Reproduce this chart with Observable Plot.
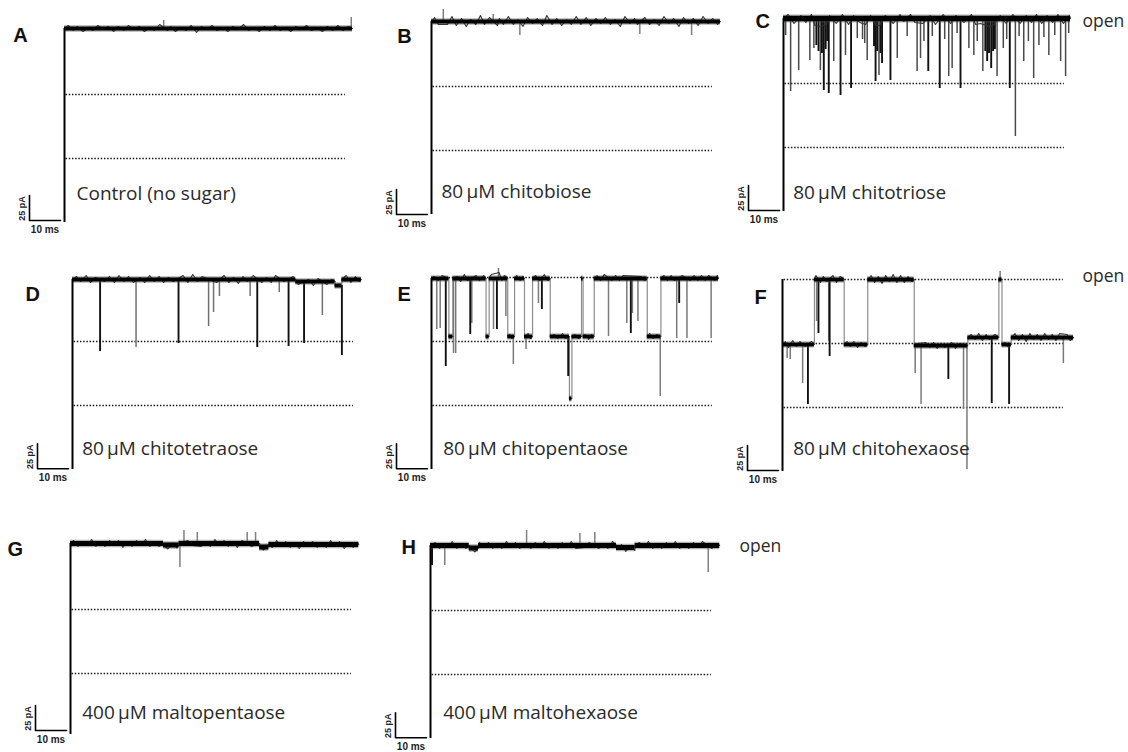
<!DOCTYPE html>
<html><head><meta charset="utf-8">
<script src="https://cdn.jsdelivr.net/npm/d3@7"></script>
<script src="https://cdn.jsdelivr.net/npm/@observablehq/plot@0.6"></script>
<style>
html,body{margin:0;padding:0;background:#fff;}
#fig{position:relative;width:1128px;height:752px;overflow:hidden;background:#fff;}
#fig svg{position:absolute;overflow:visible;}
</style></head><body><div id="fig"></div>
<script>
// ---------- data (time in ms, current in pA) ----------
const panelLetters = ["A","B","C","D","E","F","G","H"];
const conditions = ["Control (no sugar)","80\u2009µM chitobiose","80\u2009µM chitotriose","80\u2009µM chitotetraose",
  "80\u2009µM chitopentaose","80\u2009µM chitohexaose","400\u2009µM maltopentaose","400\u2009µM maltohexaose"];
const openLabel = "open";
const scaleMs = 10, scalePA = 25;
const scaleLabels = ["25 pA","10 ms"];
const dottedTrimer = [128, 64];
const dottedFull = [192, 128, 64];
const dottedStart = 0.5, dottedEnd = 90.6;

// states: [t start, t end, current level]
const statesA = [[0, 92.9, 194]];
const statesB = [[0, 93.2, 193]];
const statesC = [[0, 92.6, 193]];
const statesD = [[0, 72, 190], [72, 84.7, 188], [84.7, 86.9, 184], [86.9, 93.2, 190]];
const statesE = [[0,5.6,191],[5.6,6.9,133],[6.9,17.6,191],[17.6,18.6,133],[18.6,24.6,191],[24.6,26.8,133],
  [26.8,30.0,191],[30.0,32.6,133],[32.6,38.3,191],[38.3,44.5,133],[44.5,45.3,71],[45.3,48.4,133],
  [48.4,48.9,191],[48.9,52.5,133],[52.5,69.6,191],[69.6,74.0,133],[74.0,92.6,191]];
const statesF = [[0,10.3,127],[10.3,19.9,192],[19.9,27.5,127],[27.5,42.5,192],[42.5,59.8,126],
  [59.8,69.8,134],[69.8,70.8,192],[70.8,73.8,127],[73.8,93.9,134]];
const statesG = [[0,30,194],[30,35,192.5],[35,61,194],[61,64,190.5],[64,93,193]];
const statesH = [[0,12.5,193],[12.5,15.5,190.5],[15.5,60,193],[60,66,191],[66,93.3,193]];

// brief events: [t, extreme current, kind]  (k = dark, g = grey)
const spikesA = [[32,202,"g"],[92.5,205,"g"]];
const spikesB = [[3.8,205,"g"],[19.9,200,"g"],[28.5,179,"g"],[67.2,180,"g"],[83.9,179,"g"]];
const spikesC = [[0.7,176,"g"],[2.3,120,"g"],[4.9,141,"g"],[8.5,151,"g"],[9.8,163,"g"],[11.9,141,"g"],
  [13.0,121,"k"],[14.6,118,"k"],[16.2,150,"g"],[18.4,116,"k"],[20.0,156,"g"],[21.8,123,"k"],[23.8,173,"g"],
  [27.0,151,"g"],[29.7,130,"k"],[30.8,136,"g"],[31.8,148,"k"],[34.5,131,"k"],[36.7,153,"g"],[39.9,175,"g"],
  [43.1,140,"g"],[44.2,153,"g"],[46.7,140,"k"],[50.4,123,"k"],[53.3,135,"g"],[54.4,143,"g"],[57.1,123,"k"],
  [59.8,163,"g"],[61.4,156,"g"],[64.3,140,"g"],[65.7,150,"k"],[67.0,143,"k"],[68.9,135,"g"],[70.9,163,"g"],
  [73.0,123,"k"],[74.8,75,"g"],[77.5,150,"g"],[80.7,133,"g"],[82.4,166,"g"],[85.6,156,"g"],[89.4,150,"g"],
  [91.0,135,"g"],
  [10.6,166,"k"],[11.3,160,"k"],[12.4,158,"k"],[13.6,162,"k"],[14.1,170,"k"],[25.5,172,"g"],[26.2,168,"g"],
  [29.2,165,"k"],[30.2,160,"k"],[31.3,158,"k"],[45.3,170,"g"],[48,175,"g"],[52,172,"g"],[56,178,"g"],
  [62.5,170,"g"],[65.1,160,"k"],[66.3,158,"k"],[67.6,160,"k"],[68.2,162,"k"],[72,172,"g"],[76,175,"g"],
  [79,170,"g"],[84,174,"g"],[87.5,176,"g"],[92,178,"g"]];
const spikesD = [[8.9,118,"k"],[20.5,122,"g"],[34.2,126,"k"],[43.9,143,"g"],[45.5,157,"g"],[47.4,173,"g"],
  [57.3,173,"g"],[59.6,122,"k"],[66.7,177,"g"],[69.7,123,"k"],[74.7,126,"k"],[80.6,154,"g"],[86.9,114,"k"]];
const spikesE = [[1.7,140,"g"],[2.8,141,"g"],[4.6,103,"k"],[7.1,116,"g"],[7.8,116,"g"],[12.5,135,"k"],
  [13.0,146,"g"],[20.0,140,"g"],[21.1,140,"k"],[21.6,201,"g"],[24.0,153,"g"],[26.4,105,"g"],[30.5,120,"g"],
  [34.5,166,"g"],[35.6,160,"k"],[44.1,93,"k"],[57.1,133,"g"],[63.0,146,"g"],[64.3,136,"k"],[64.8,156,"g"],
  [66.6,148,"g"],[73.8,73,"g"],[79.1,131,"g"],[79.9,166,"k"],[82.4,131,"g"],[90.2,131,"g"]];
const spikesF = [[1.5,113,"g"],[2.5,112,"g"],[6.5,88,"g"],[8.2,67,"k"],[11.0,150,"g"],[11.6,138,"k"],
  [14.9,130,"g"],[15.2,115,"k"],[42.8,98,"g"],[44.7,67,"g"],[53.5,92,"k"],[58.4,62,"g"],[59.5,2,"g"],
  [67.5,68,"k"],[70.2,200,"g"],[73.1,67,"k"],[90.6,108,"g"]];
const spikesG = [[35.3,170,"g"],[36.6,207,"g"],[40.9,205,"g"],[57,205,"g"],[59.7,205,"g"]];
const spikesH = [[0.5,173,"k"],[4.6,173,"g"],[31,208,"g"],[48.2,205,"g"],[53,206,"g"],[89.6,166,"g"]];

// recording noise: [t, deviation from current level]
const noiseA = [[1.2,3],[2.9,-2],[4.1,2],[6.0,-3],[7.7,1],[9.1,-2],[10.8,3],[12.5,-1],[14.0,2],[15.9,-3],[17.3,2],
  [19.2,-2],[20.6,3],[22.4,-1],[24.1,2],[25.8,-3],[27.5,1],[29.0,-2],[30.7,4],[33.3,-2],[34.2,2],[35.8,-3],[37.4,1],
  [39.3,-2],[40.9,3],[42.6,-4],[44.1,2],[46.0,-1],[47.6,3],[49.2,-2],[51.0,1],[52.7,-3],[54.3,2],[56.1,-1],[57.8,4],
  [59.4,-2],[61.2,1],[62.8,-3],[64.5,2],[66.3,-2],[67.9,3],[69.6,-2],[71.3,1],[73.0,-3],[74.6,2],[76.4,-1],[78.1,3],
  [79.7,-2],[81.4,1],[83.2,-3],[84.8,2],[86.5,-2],[88.2,3],[89.9,-2],[91.5,2]];
const noiseB = [[1.0,4],[2.2,-3],[5.1,-3],[6.6,5],[8.0,-4],[9.7,3],[11.2,-5],[12.6,2],[14.3,-3],[15.8,6],[17.1,-3],
  [18.7,4],[21.3,-4],[21.9,3],[23.2,-3],[24.8,5],[26.4,-3],[27.9,2],[29.5,-5],[31.0,4],[32.6,-2],[34.1,3],[35.8,-4],
  [37.2,6],[38.9,-3],[40.4,3],[42.0,-4],[43.6,2],[45.1,-3],[46.7,5],[48.2,-3],[49.9,4],[51.4,-4],[53.0,3],[54.6,-2],
  [56.1,4],[57.7,-3],[59.2,2],[60.9,-5],[62.4,5],[64.0,-2],[65.5,3],[66.4,-3],[68.8,4],[70.3,-3],[71.9,2],[73.4,-4],
  [75.0,5],[76.6,-2],[78.1,3],[79.8,-5],[81.3,4],[82.9,-2],[84.5,3],[86.0,-4],[87.6,5],[89.2,-2],[90.7,3],[92.3,-3]];
const noiseC = [[1.5,4],[3.4,-5],[5.6,3],[7.2,-4],[9.0,4],[10.2,-7],[12.0,-8],[13.3,-7],[14.9,3],[17.0,-5],[19.0,4],
  [21.0,-6],[22.6,3],[24.6,-4],[26.5,-6],[28.1,3],[29.9,-7],[31.0,-7],[32.8,3],[35.4,-5],[37.6,4],[38.8,-3],
  [41.0,4],[42.4,-4],[45.0,-5],[47.3,3],[49.0,-6],[51.5,4],[53.9,-5],[55.6,3],[58.3,-4],[60.6,4],[62.0,-6],
  [63.5,-5],[65.4,-7],[66.7,-8],[67.9,-6],[69.9,3],[71.8,-5],[74.0,4],[76.3,-5],[78.3,3],[80.0,-4],[81.6,4],
  [83.3,-5],[85.0,3],[86.8,-4],[88.5,4],[90.3,-5],[92.2,3]];
const noiseD = [[1.3,3],[2.6,-2],[4.4,4],[5.8,-3],[7.4,2],[10.4,-2],[11.9,3],[13.5,-3],[15.0,4],[16.6,-2],[18.1,3],
  [19.6,-3],[21.9,2],[23.3,-3],[24.9,4],[26.4,-2],[27.9,3],[29.4,-3],[30.9,2],[32.5,-2],[35.7,4],[37.2,-3],[38.8,5],
  [40.3,-2],[41.8,3],[46.5,-3],[48.9,4],[50.4,-3],[52.0,2],[53.5,-4],[55.0,3],[56.5,-2],[58.3,4],[61.1,-3],[62.6,2],
  [64.1,-3],[65.5,4],[68.2,-2],[71.2,3],[72.8,-3],[76.2,2],[77.7,-4],[79.2,3],[82.1,-3],[83.6,2],[88.3,4],[89.8,-3],
  [91.3,3],[92.6,-2]];
const noiseE = [[0.8,2],[2.2,-2],[3.4,3],[8.3,2],[9.4,-3],[10.6,4],[11.6,-2],[14.4,3],[15.5,-2],[16.8,3],[19.3,4],
  [21.8,6],[22.7,-2],[23.5,3],[25.2,2],[25.9,-2],[27.5,3],[28.6,-2],[29.5,2],[31.2,3],[31.9,-2],[33.6,3],[34.9,-2],
  [36.4,4],[37.5,-2],[39.6,2],[40.8,-2],[42.3,3],[43.2,-2],[46.2,2],[47.3,-2],[49.6,2],[50.7,-3],[51.6,2],[53.4,3],
  [54.5,-2],[55.7,4],[58.2,-2],[59.4,3],[60.6,-2],[61.8,3],[67.6,2],[68.7,-2],[70.4,3],[71.5,-2],[72.7,2],[75.0,3],
  [76.1,-2],[77.3,3],[78.3,-2],[80.9,3],[83.5,-2],[84.7,3],[85.9,-2],[87.1,3],[88.3,-2],[89.4,3],[91.4,-2],[92.2,3]];
const noiseF = [[0.9,3],[1.9,-3],[3.3,4],[4.5,-2],[5.6,3],[7.3,-2],[9.4,3],[10.8,4],[12.2,-3],[13.2,3],[14.2,-2],
  [16.3,4],[17.4,-3],[18.6,3],[20.8,3],[21.9,-2],[23.0,3],[24.2,-3],[25.4,2],[26.6,-2],[28.6,4],[29.7,-3],[30.9,3],
  [32.1,-4],[33.3,4],[34.5,-2],[35.7,5],[36.9,-3],[38.1,4],[39.3,-3],[40.5,3],[41.7,-2],[43.6,2],[46.3,3],[47.5,-2],
  [48.7,3],[49.9,-3],[51.1,2],[52.3,-2],[54.6,3],[55.8,-3],[57.0,2],[60.9,3],[62.1,-2],[63.3,4],[64.5,-3],[65.7,3],
  [66.7,-2],[68.5,3],[71.8,2],[72.6,-2],[75.0,4],[76.2,-3],[77.4,3],[78.6,-4],[79.8,4],[81.0,-2],[82.2,3],[83.4,-3],
  [84.6,4],[85.8,-2],[87.0,3],[88.2,-3],[89.4,4],[91.8,3],[92.8,-3]];
const noiseG = [[1.0,3],[2.4,-3],[3.9,2],[5.3,-2],[6.8,4],[8.2,-3],[9.7,2],[11.1,-3],[12.6,3],[14.0,-2],[15.5,3],
  [16.9,-4],[18.4,2],[19.8,-3],[21.3,3],[22.7,-2],[24.2,4],[25.6,-3],[27.1,2],[28.5,-3],[30.0,3],[31.4,-4],[32.9,2],
  [34.3,-3],[37.9,3],[39.3,-2],[42.2,-3],[43.7,2],[45.1,-3],[46.6,4],[48.0,-2],[49.5,3],[50.9,-3],[52.4,2],[53.8,-4],
  [55.3,3],[58.4,-3],[61.0,2],[62.3,-3],[63.6,2],[65.1,-3],[66.5,4],[68.0,-2],[69.4,3],[70.9,-3],[72.3,2],[73.8,-4],
  [75.2,3],[76.7,-2],[78.1,3],[79.6,-3],[81.0,2],[82.5,-3],[83.9,4],[85.4,-2],[86.8,3],[88.3,-4],[89.7,2],[91.2,-3],
  [92.5,2]];
const noiseH = [[1.5,3],[2.9,-3],[4.0,2],[5.6,-2],[7.0,4],[8.5,-3],[9.9,2],[11.4,-3],[12.8,2],[14.3,-4],[15.8,3],
  [17.2,-2],[18.7,3],[20.1,-3],[21.6,2],[23.0,-3],[24.5,4],[25.9,-2],[27.4,3],[28.8,-3],[30.3,2],[32.4,-3],[33.8,3],
  [35.3,-2],[36.7,4],[38.2,-3],[39.6,2],[41.1,-3],[42.5,3],[44.0,-2],[45.4,4],[46.9,-3],[49.6,-2],[51.2,3],[54.3,-3],
  [55.8,2],[57.2,-3],[58.7,4],[60.1,-2],[61.6,3],[63.0,-4],[64.5,2],[65.9,-3],[67.4,3],[68.8,-2],[70.3,4],[71.7,-3],
  [73.2,2],[74.6,-3],[76.1,3],[77.5,-2],[79.0,4],[80.4,-3],[81.9,2],[83.3,-3],[84.8,3],[86.2,-2],[87.7,4],[90.8,-3],
  [92.3,2]];

// ---------- layout (pixel placement of each panel) ----------
const KX = 3.1;            // pixels per ms
const W = 420, H = 270, PADL = 66, PADT = 232;
const layout = [
  {x0:64,  y0:222,   base:2,   vb:0, band:4.0, grey:"#808080", letter:[-51.3,-181], label:[12,-23]},
  {x0:431, y0:213.5, base:0,   vb:0, band:4.2, grey:"#808080", letter:[-34.3,-171.5], label:[10,-16.5]},
  {x0:783, y0:211,   base:1,   vb:0, band:5.5, grey:"#4a4a4a", letter:[-28,-184], label:[9.7,-12.7], open:[299,-184.3]},
  {x0:72,  y0:469,   base:0.7, vb:0, band:4.0, grey:"#707070", letter:[-47,-169], label:[9.7,-15]},
  {x0:431, y0:469,   base:0.7, vb:0, band:3.8, grey:"#7a7a7a", letter:[-34,-169], label:[11.7,-15]},
  {x0:782, y0:471,   base:1,   vb:0, band:3.8, grey:"#7a7a7a", letter:[-28,-168], label:[10.7,-17], open:[300,-189.3]},
  {x0:70,  y0:737,   base:7,   vb:3, band:5.0, grey:"#808080", letter:[-63,-182], label:[11.7,-18.7]},
  {x0:430, y0:738,   base:0.7, vb:0, band:5.0, grey:"#808080", letter:[-29,-185], label:[12.7,-19.7], open:[309,-186.3]}
];
const allStates = [statesA,statesB,statesC,statesD,statesE,statesF,statesG,statesH];
const allSpikes = [spikesA,spikesB,spikesC,spikesD,spikesE,spikesF,spikesG,spikesH];
const allNoise = [noiseA,noiseB,noiseC,noiseD,noiseE,noiseF,noiseG,noiseH];
const allDotted = [dottedTrimer,dottedTrimer,dottedTrimer,dottedTrimer,dottedFull,dottedFull,dottedTrimer,dottedTrimer];

const SANS = "'Open Sans', 'Noto Sans', sans-serif";
const ARIAL = "'Liberation Sans', Arial, sans-serif";

function levelAt(states, t) {
  for (const s of states) if (t >= s[0] && t <= s[1]) return s[2];
  return states[states.length - 1][2];
}

const fig = document.getElementById("fig");
layout.forEach((L, i) => {
  const states = allStates[i], spikes = allSpikes[i], noise = allNoise[i];
  const lv = states.map(s => ({t0: s[0], t1: s[1], level: s[2]}));
  const trans = [];
  for (let k = 1; k < states.length; k++) trans.push({t: states[k][0], a: states[k-1][2], b: states[k][2]});
  const sp = spikes.map(s => ({t: s[0], from: levelAt(states, s[0]), to: s[1], kind: s[2]}));
  const wig = [];
  states.forEach((s, k) => {
    wig.push({t: s[0], I: s[2], z: k});
    noise.filter(n => n[0] > s[0] && n[0] < s[1]).forEach(n => wig.push({t: n[0], I: s[2] + n[1], z: k}));
    wig.push({t: s[1], I: s[2], z: k});
  });
  const top = Math.max(...states.map(s => s[2]));
  const bx = -35 / KX;
  const bar = [{t: bx, I: L.base + scalePA}, {t: bx, I: L.base}, {t: bx + scaleMs, I: L.base}];
  const texts = [{t: L.letter[0] / KX, I: -L.letter[1], s: panelLetters[i]}];
  const labels = [{t: L.label[0] / KX, I: -L.label[1], s: conditions[i]}];
  const opens = L.open ? [{t: L.open[0] / KX, I: -L.open[1], s: openLabel}] : [];
  const pa = [{t: -42 / KX, I: L.base + 12, s: scaleLabels[0]}];
  const ms = [{t: -19.5 / KX, I: L.base - 9, s: scaleLabels[1]}];

  const svg = Plot.plot({
    width: W, height: H,
    marginLeft: 0, marginRight: 0, marginTop: 0, marginBottom: 0,
    x: {type: "linear", domain: [-PADL / KX, (W - PADL) / KX], range: [0, W], axis: null},
    y: {type: "linear", domain: [PADT - H, PADT], range: [H, 0], axis: null},
    style: {background: "transparent", overflow: "visible"},
    marks: [
      Plot.ruleY(allDotted[i], {y: d => d, x1: dottedStart, x2: dottedEnd, stroke: "#1a1a1a", strokeWidth: 1.5, strokeDasharray: "1.5 1.7"}),
      Plot.ruleX(trans, {x: "t", y1: "a", y2: "b", stroke: "#8c8c8c", strokeWidth: 1.2}),
      Plot.ruleX(sp.filter(d => d.kind === "g"), {x: "t", y1: "from", y2: "to", stroke: L.grey, strokeWidth: 1.5}),
      Plot.ruleX(sp.filter(d => d.kind === "k"), {x: "t", y1: "from", y2: "to", stroke: "#111", strokeWidth: 1.9}),
      Plot.ruleY(lv, {y: "level", x1: "t0", x2: "t1", stroke: "#555", strokeWidth: L.band + 2.5, strokeOpacity: 0.45}),
      Plot.line(wig, {x: "t", y: "I", z: "z", stroke: "#333", strokeWidth: 1.1, curve: "linear"}),
      Plot.ruleY(lv, {y: "level", x1: "t0", x2: "t1", stroke: "#000", strokeWidth: L.band}),
      Plot.ruleX([0], {y1: L.vb, y2: top, stroke: "#000", strokeWidth: 2}),
      Plot.line(bar, {x: "t", y: "I", stroke: "#000", strokeWidth: 1.6}),
      Plot.text(texts, {x: "t", y: "I", text: "s", textAnchor: "start", lineAnchor: "bottom", fontFamily: ARIAL, fontWeight: "bold", fontSize: 20, fill: "#111"}),
      Plot.text(labels, {x: "t", y: "I", text: "s", textAnchor: "start", lineAnchor: "bottom", fontFamily: SANS, fontSize: 19, fill: "#2a2a2a"}),
      Plot.text(opens, {x: "t", y: "I", text: "s", textAnchor: "start", lineAnchor: "bottom", fontFamily: SANS, fontSize: 17.5, fill: "#2a2a2a"}),
      Plot.text(pa, {x: "t", y: "I", text: "s", rotate: -90, textAnchor: "middle", lineAnchor: "middle", fontFamily: ARIAL, fontWeight: "bold", fontSize: 9, fill: "#222"}),
      Plot.text(ms, {x: "t", y: "I", text: "s", textAnchor: "middle", lineAnchor: "middle", fontFamily: ARIAL, fontWeight: "bold", fontSize: 10, fill: "#222"})
    ]
  });
  svg.style.left = (L.x0 - PADL) + "px";
  svg.style.top = (L.y0 - PADT) + "px";
  svg.style.maxWidth = "none";
  fig.appendChild(svg);
});
</script></body></html>
